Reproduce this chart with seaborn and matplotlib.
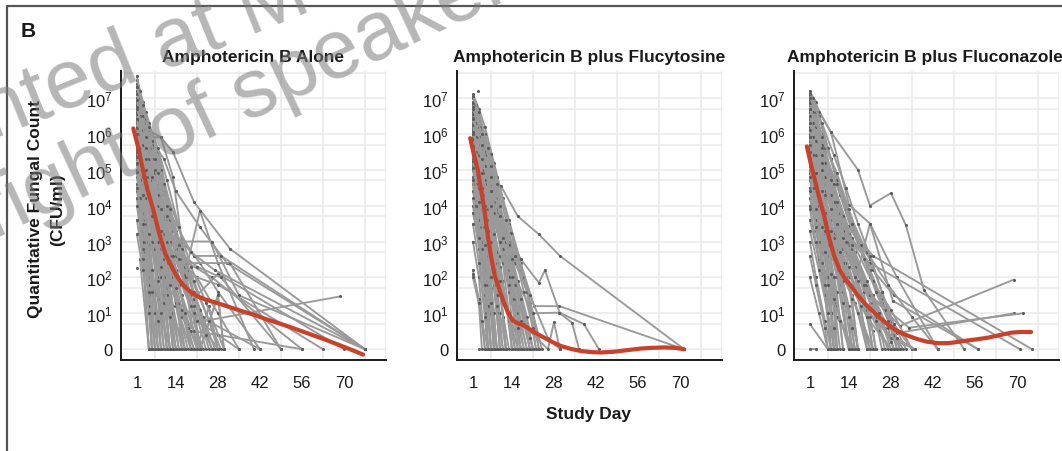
import matplotlib
matplotlib.use("Agg")
import matplotlib.pyplot as plt
import seaborn as sns
import pandas as pd
from matplotlib.lines import Line2D

# ---------------- data ----------------
PANEL_TITLES = ["Amphotericin B Alone",
                "Amphotericin B plus Flucytosine",
                "Amphotericin B plus Fluconazole"]
X_TICKS = [1, 14, 28, 42, 56, 70]
Y_TICKS = [0, 1, 2, 3, 4, 5, 6, 7]
Y_TICK_LABELS = ["0", r"$\mathregular{10^{1}}$", r"$\mathregular{10^{2}}$", r"$\mathregular{10^{3}}$",
                 r"$\mathregular{10^{4}}$", r"$\mathregular{10^{5}}$", r"$\mathregular{10^{6}}$",
                 r"$\mathregular{10^{7}}$"]
Y_LABEL = ["Quantitative Fungal Count", "(CFU/ml)"]
X_LABEL = "Study Day"
PANEL_LETTER = "B"

# individual patient trajectories: (study day, log10 CFU/ml)
AMB_ALONE = [
    [(1,7.5),(3,6.9),(5,6.0),(8,4.6),(11,2.8),(14,1.2),(17,0)],
    [(1,7.2),(3,6.4),(5,5.4),(7,4.3),(10,2.4),(13,0)],
    [(1,7.0),(4,6.2),(7,4.9),(10,3.1),(14,1.5),(20,0)],
    [(1,6.9),(3,6.0),(5,5.0),(8,3.6),(11,1.9),(14,0)],
    [(1,6.7),(3,5.7),(5,4.9),(8,3.2),(10,1.5),(12,0)],
    [(1,6.6),(4,5.8),(6,5.1),(9,3.8),(12,2.4),(15,1.0),(19,0)],
    [(1,6.5),(3,5.3),(5,4.6),(7,3.0),(9,0)],
    [(1,6.4),(4,5.5),(7,4.2),(10,2.6),(13,1.2),(16,0)],
    [(1,6.3),(3,5.1),(5,4.1),(8,2.7),(11,0)],
    [(1,6.2),(4,5.2),(6,4.0),(9,2.2),(12,0.8),(14,0)],
    [(1,6.1),(3,5.2),(5,4.8),(8,3.5),(12,2.0),(18,0)],
    [(1,6.0),(3,4.9),(5,3.9),(7,2.5),(9,1.0),(10,0)],
    [(1,5.9),(4,5.0),(6,3.6),(8,2.0),(11,0)],
    [(1,5.8),(3,4.6),(5,3.2),(7,1.6),(8,0)],
    [(1,5.7),(5,5.0),(9,3.3),(13,1.8),(16,0.9),(22,0)],
    [(1,5.6),(3,4.3),(5,2.9),(7,1.0),(8,0)],
    [(1,5.5),(4,4.4),(7,2.8),(10,1.3),(12,0)],
    [(1,5.4),(3,4.0),(5,2.4),(6,0)],
    [(1,5.3),(5,4.9),(8,3.0),(11,1.7),(15,0)],
    [(1,5.2),(3,3.8),(5,2.0),(7,0)],
    [(1,5.0),(3,3.6),(5,1.8),(6,0)],
    [(1,4.9),(5,4.7),(9,2.8),(13,1.0),(17,0)],
    [(1,4.8),(3,3.3),(5,1.5),(7,0)],
    [(1,4.6),(3,3.0),(5,1.2),(6,0)],
    [(1,4.4),(4,3.0),(7,1.5),(9,0)],
    [(1,4.2),(3,2.7),(5,0)],
    [(1,4.0),(3,2.8),(5,1.6),(8,0)],
    [(1,3.6),(3,2.5),(5,0)],
    [(2,2.5),(5,0)],
    [(1,2.27)],
    [(1,7.4),(4,6.6),(8,5.5),(12,4.0),(15,2.8),(19,1.5),(24,0)],
    [(1,7.1),(5,6.3),(9,5.0),(13,3.5),(17,2.0),(21,0.5),(23,0)],
    [(1,6.8),(5,5.9),(9,5.9),(13,4.8),(16,3.0),(20,1.4),(25,0)],
    [(1,6.5),(5,5.6),(10,4.4),(14,3.3),(18,2.2),(24,1.0),(29,0)],
    [(1,6.2),(5,5.1),(9,4.0),(14,2.6),(20,1.2),(22,0),(28,1.5),(30,0)],
    [(1,5.9),(5,4.9),(10,3.4),(14,2.0),(19,0.5),(21,0),(25,1.2),(28,0)],
    [(1,6.0),(5,5.0),(8,4.2),(12,2.9),(17,1.8),(21,0)],
    [(1,5.8),(5,4.9),(11,3.0),(16,1.8),(20,1.0),(28,0)],
    [(1,6.6),(5,5.1),(10,3.7),(15,2.5),(21,2.0),(28,1.0),(35,0)],
    [(1,6.9),(6,5.8),(10,4.6),(16,3.1),(22,2.4),(28,1.6),(42,0)],
    [(1,7.0),(5,6.1),(9,5.9),(13,5.5),(20,4.1),(32,2.8),(77,0)],
    [(1,6.6),(6,5.8),(10,5.3),(14,4.4),(22,3.4),(31,2.4),(77,0)],
    [(1,6.2),(5,5.0),(12,3.4),(17,2.1),(22,3.85),(28,2.4),(40,0)],
    [(1,5.9),(5,5.0),(10,3.4),(15,3.0),(26,3.0),(35,1.5),(77,0)],
    [(1,6.0),(4,5.0),(9,3.0),(17.6,2.4),(32,2.4),(49,0)],
    [(1,5.5),(5,4.8),(10,2.5),(17.6,0.7),(68.7,1.47)],
    [(1,6.8),(5,5.2),(11,3.6),(16,2.5),(26,2.0),(56,0)],
    [(1,6.4),(5,4.9),(10,3.1),(14,2.2),(28,1.8),(63,0)],
    [(1,5.8),(5,5.0),(13,2.0),(21,1.5),(28,2.1),(70,0)],
    [(1,7.2),(4,6.0),(8,4.5),(13,3.3),(20,2.6),(29,2.6),(77,0)],
    [(1,6.1),(5,4.8),(12,2.5),(20,1.0),(42,0)],
    [(1,5.3),(4,4.5),(9,2.0),(15,1.3),(21,0.8),(35,0)],
    [(1,6.9),(6,5.7),(12,3.8),(19,2.7),(27,2.2),(77,0)],
    [(1,5.6),(5,5.1),(11,3.0),(16,1.5),(22,0),(28,1.5),(30,0)],
    [(1,6.3),(5,5.0),(10,3.6),(14,2.8),(21,2.3),(29,2.0),(49,0)],
    [(1,5.7),(5,4.9),(14,1.3),(20,0.5),(28,0.4),(56,0)],
    [(1,7.3),(2,7.0),(4,6.3),(6,5.6),(9,4.3),(12,3.0),(15,1.8),(18,0.6),(20,0)],
    [(1,7.1),(3,6.5),(6,5.3),(9,3.9),(12,2.6),(16,1.1),(19,0)],
    [(1,6.95),(2,6.5),(4,5.6),(7,4.4),(10,3.2),(13,2.0),(17,0)],
    [(1,6.75),(3,6.1),(5,5.5),(8,4.3),(11,3.0),(14,1.7),(16,0)],
    [(1,6.55),(2,6.0),(5,5.3),(8,4.0),(11,2.4),(13,0)],
    [(1,6.35),(3,5.7),(6,4.7),(9,3.3),(12,1.8),(15,0)],
    [(1,6.15),(2,5.6),(4,4.8),(7,3.5),(10,2.0),(12,0)],
    [(1,5.95),(3,5.1),(5,4.3),(8,3.0),(11,1.5),(13,0)],
    [(1,5.75),(2,5.2),(4,4.2),(6,3.0),(8,1.4),(10,0)],
    [(1,5.55),(3,4.8),(6,3.7),(9,2.3),(12,0.9),(14,0)],
    [(1,5.35),(2,4.7),(4,3.5),(6,2.2),(8,0.8),(9,0)],
    [(1,5.15),(3,4.3),(5,3.2),(8,1.9),(11,0)],
    [(1,4.95),(2,4.2),(4,3.0),(6,1.6),(7,0)],
    [(1,4.5),(3,3.5),(6,2.2),(9,1.0),(12,0)],
    [(1,3.2),(3,2.2),(5,1.0),(6,0)],
    [(1,7.6),(2,7.2),(4,6.4),(7,5.3),(10,4.3),(14,3.2),(18,2.0),(23,0.9),(27,0)],
    [(1,7.3),(3,6.8),(5,6.2),(8,5.6),(11,4.7),(15,3.4),(19,2.3),(24,1.3),(30,0)],
    [(1,6.4),(4,5.6),(8,4.9),(12,3.9),(16,2.8),(20,1.9),(25,0.8),(28,0)],
    [(1,6.0),(4,5.3),(8,4.6),(12,3.6),(17,2.3),(22,1.1),(26,0)],
    [(1,5.5),(4,5.0),(7,4.9),(11,3.7),(15,2.5),(19,1.2),(22,0)],
    [(1,5.2),(4,5.0),(6,4.8),(9,3.9),(13,2.6),(17,1.0),(19,0)],
    [(1,6.7),(4,5.9),(7,5.0),(11,4.0),(15,2.9),(20,1.6),(24,0.4),(26,0)],
]

AMB_FLUCYTOSINE = [
    [(1,7.1),(3,6.7),(5,6.2),(8,5.2),(11,4.2),(13,3.6),(17,2.4),(20,1.3),(23,0)],
    [(1,6.9),(3,6.3),(5,5.6),(8,4.4),(11,3.0),(14,1.8),(18,0)],
    [(1,6.8),(3,6.0),(6,5.0),(9,3.6),(12,2.2),(15,0.8),(17,0)],
    [(1,6.7),(4,6.0),(7,4.9),(10,3.5),(13,2.2),(16,1.0),(19,0)],
    [(1,6.6),(3,5.7),(5,4.9),(8,3.4),(11,1.9),(14,0)],
    [(1,6.5),(3,5.5),(6,4.4),(9,2.8),(12,1.3),(15,0)],
    [(1,6.4),(3,5.4),(5,4.3),(8,2.6),(10,1.0),(12,0)],
    [(1,6.3),(4,5.3),(7,4.0),(10,2.3),(13,0.8),(14,0)],
    [(1,6.2),(3,5.1),(5,3.9),(7,2.6),(9,1.0),(11,0)],
    [(1,6.1),(3,5.0),(6,4.1),(9,2.7),(12,1.2),(16,0)],
    [(1,6.0),(3,4.8),(5,3.5),(7,2.0),(9,0)],
    [(1,5.9),(4,4.9),(7,3.5),(10,1.8),(12,0)],
    [(1,5.8),(3,4.6),(5,3.3),(7,1.7),(8,0)],
    [(1,5.7),(3,4.5),(6,3.6),(9,2.2),(13,1.0),(17,0)],
    [(1,5.6),(3,4.3),(5,2.8),(7,1.2),(8,0)],
    [(1,5.5),(4,4.5),(7,3.0),(10,1.5),(13,0)],
    [(1,5.4),(3,4.0),(5,2.5),(6,0)],
    [(1,5.3),(3,4.2),(6,3.0),(9,1.5),(11,0)],
    [(1,5.2),(3,3.8),(5,2.2),(7,0)],
    [(1,5.1),(4,4.0),(7,2.5),(9,1.0),(10,0)],
    [(1,5.0),(3,3.6),(5,1.9),(6,0)],
    [(1,4.8),(3,3.4),(6,2.0),(8,0)],
    [(1,4.6),(3,3.2),(5,1.5),(6,0)],
    [(1,4.4),(4,3.0),(7,1.4),(9,0)],
    [(1,4.0),(3,2.8),(5,1.0),(6,0)],
    [(1,3.8),(4,2.5),(7,1.0),(9,0)],
    [(1,3.0),(3,2.0),(5,0)],
    [(1,2.2),(3,1.4),(5,0)],
    [(1,2.1),(4,0.8),(6,0)],
    [(2.7,7.2)],
    [(3,0)],
    [(1,6.9),(5,6.0),(9,4.8),(13,3.5),(17,2.2),(21,1.0),(23,0)],
    [(1,6.6),(5,5.8),(9,4.5),(12,3.0),(16,1.8),(19,0.7),(21,0)],
    [(1,6.3),(5,5.5),(8,4.8),(12,3.3),(15,2.0),(18,0.8),(20,0)],
    [(1,6.0),(5,5.2),(9,3.9),(13,2.6),(17,1.4),(20,0)],
    [(1,5.7),(5,4.9),(9,3.6),(13,2.0),(16,0.7),(18,0)],
    [(1,6.4),(5,5.4),(9,4.2),(14,2.9),(18,2.0),(24,0)],
    [(1,6.1),(5,5.1),(9,3.9),(13,3.0),(19,1.6),(22,0)],
    [(1,6.2),(4,5.3),(7,4.55),(10.3,4.55),(16,3.7),(23,3.2),(30,2.6),(71.4,0)],
    [(1,6.8),(4,6.1),(7,5.45),(13.7,3.25),(21.4,1.2),(29.8,1.2),(71.4,0)],
    [(1,6.0),(5,5.0),(9,3.8),(17,2.5),(23,1.85),(25,2.2),(30,1.0),(34,0.74),(36.4,0)],
    [(1,5.8),(5,4.7),(9,3.3),(15,2.0),(21,1.0),(29.8,1.02),(38,0.7),(43,0)],
    [(1,5.5),(5,4.3),(10,2.6),(15,1.4),(20,0.5),(26,0),(28,0.75),(30,0)],
    [(1,6.5),(5,5.5),(10,3.8),(15,2.4),(20,1.5),(26,0.3),(30,0)],
    [(1,7.0),(2,6.8),(4,6.2),(6,5.4),(9,4.2),(12,3.0),(15,1.8),(18,0.7),(20,0)],
    [(1,6.85),(3,6.2),(5,5.4),(8,4.1),(11,2.8),(14,1.4),(16,0)],
    [(1,6.75),(2,6.3),(4,5.6),(7,4.4),(10,3.0),(13,1.6),(15,0)],
    [(1,6.55),(3,5.9),(5,5.1),(8,3.8),(11,2.4),(13,1.0),(14,0)],
    [(1,6.45),(2,5.9),(4,5.0),(6,3.9),(9,2.4),(11,0.9),(12,0)],
    [(1,6.25),(3,5.4),(5,4.6),(8,3.2),(10,1.9),(12,0)],
    [(1,6.05),(2,5.5),(4,4.5),(6,3.3),(8,1.8),(10,0)],
    [(1,5.85),(3,5.0),(5,4.0),(7,2.6),(9,1.2),(10,0)],
    [(1,5.65),(2,5.0),(4,3.9),(6,2.6),(8,1.0),(9,0)],
    [(1,5.45),(3,4.5),(5,3.4),(7,2.0),(8,0)],
    [(1,5.25),(2,4.6),(4,3.4),(6,1.8),(7,0)],
    [(1,5.05),(3,4.1),(5,2.9),(7,1.3),(8,0)],
    [(1,4.7),(2,4.0),(4,2.8),(6,1.2),(7,0)],
    [(1,4.2),(3,3.1),(5,1.8),(7,0)],
    [(1,3.5),(3,2.4),(5,0.9),(6,0)],
    [(1,7.05),(3,6.6),(6,5.6),(9,4.6),(12,3.6),(15,2.6),(18,1.6),(21,0.6),(22,0)],
    [(1,6.7),(4,6.0),(7,5.1),(10,4.0),(13,2.9),(16,1.9),(19,0.9),(21,0)],
    [(1,6.4),(4,5.7),(7,4.8),(10,3.7),(14,2.5),(17,1.4),(20,0.3),(21,0)],
    [(1,6.0),(4,5.3),(7,4.4),(11,3.1),(14,2.0),(17,0.8),(19,0)],
    [(1,5.6),(4,4.9),(7,4.0),(10,3.0),(13,1.8),(16,0.6),(17,0)],
    [(1,2.0),(3,1.3),(4,0)],
]

AMB_FLUCONAZOLE = [
    [(1,7.15),(3,6.9),(5,6.2),(8,5.3),(11,4.4),(14,3.6),(18,2.9),(21,2.5),(25,1.6),(28,0.8),(30,0)],
    [(1,7.0),(3,6.6),(5,5.9),(8,4.9),(11,4.0),(14,3.1),(18,2.2),(22,1.3),(26,0)],
    [(1,6.9),(3,6.3),(6,5.4),(9,4.4),(12,3.5),(15,2.6),(19,1.6),(22,0)],
    [(1,6.8),(4,6.0),(7,5.0),(10,4.0),(14,2.9),(18,2.0),(22,1.5),(27,0.6),(29,0)],
    [(1,6.7),(3,6.0),(5,5.2),(8,4.0),(11,2.8),(14,1.8),(17,0)],
    [(1,6.6),(3,5.8),(6,4.8),(9,3.6),(13,2.4),(17,1.4),(21,0)],
    [(1,6.5),(4,5.6),(7,4.4),(10,3.2),(14,2.0),(17,0)],
    [(1,6.4),(3,5.4),(5,4.4),(8,3.0),(11,1.8),(14,0)],
    [(1,6.3),(4,5.5),(8,4.2),(12,3.0),(16,2.0),(20,1.2),(24,0.5),(28,0)],
    [(1,6.2),(3,5.2),(6,4.0),(9,2.8),(12,1.6),(15,0)],
    [(1,6.1),(4,5.0),(7,3.7),(10,2.4),(14,1.0),(16,0)],
    [(1,6.0),(3,4.9),(5,3.9),(8,2.5),(10,0)],
    [(1,5.9),(4,4.9),(8,3.6),(12,2.4),(15,1.5),(21,0)],
    [(1,5.8),(3,4.7),(6,3.4),(9,2.0),(10,0)],
    [(1,5.7),(4,4.6),(7,3.4),(11,2.2),(14,1.2),(17,0)],
    [(1,5.6),(3,4.5),(5,3.4),(7,2.0),(9,0)],
    [(1,5.5),(4,4.5),(8,3.2),(12,2.0),(16,1.3),(22,0)],
    [(1,5.4),(3,4.2),(6,3.0),(8,1.5),(9,0)],
    [(1,5.3),(4,4.3),(7,3.1),(10,2.0),(14,0)],
    [(1,5.2),(3,4.0),(5,2.7),(7,1.0),(8,0)],
    [(1,5.0),(4,3.9),(7,2.6),(10,1.2),(14,0)],
    [(1,4.9),(3,3.6),(6,2.5),(9,1.3),(15,0)],
    [(1,4.7),(4,3.5),(7,2.0),(9,0)],
    [(1,4.5),(3,3.3),(6,2.0),(8,0)],
    [(1,4.2),(4,3.0),(7,1.8),(10,0.9),(16,0)],
    [(1,4.0),(3,2.9),(6,1.5),(8,0)],
    [(1,3.6),(4,2.5),(8,1.0),(9,0)],
    [(1,3.0),(3,2.0),(6,0.8),(8,0)],
    [(1,2.0),(4,1.0),(7,0)],
    [(1,0.7),(7,0)],
    [(1,0),(3,0)],
    [(1,6.9),(5,6.0),(9,5.0),(13,4.0),(17,3.0),(21,2.2),(25,1.4),(28,0.6),(32,0)],
    [(1,6.6),(5,5.6),(9,4.5),(13,3.4),(17,2.4),(21,1.5),(26,0.6),(29,0)],
    [(1,6.4),(5,5.2),(9,4.1),(14,3.0),(19,1.8),(23,0.9),(27,0)],
    [(1,6.0),(5,4.8),(9,3.7),(14,2.6),(18,1.5),(22,0.5),(23,0)],
    [(1,5.6),(5,4.4),(9,3.2),(13,2.0),(17,1.0),(20,0)],
    [(1,5.0),(5,4.0),(10,2.8),(15,1.7),(20,0.9),(28,0)],
    [(1,6.8),(6,5.5),(11,4.3),(15,3.3),(20,2.4),(24,1.5),(29,0.7),(35,0)],
    [(1,6.2),(6,5.0),(11,3.5),(16,2.3),(21,1.3),(26,0.5),(36,0)],
    [(1,7.1),(8,6.05),(17,5.0),(21,4.0),(28,4.35),(33,3.45),(39,1.65),(52.4,0)],
    [(1,7.05),(4,6.6),(8,6.05),(14,4.03),(21,3.5),(30,2.0),(43.6,0)],
    [(1,4.8),(6,3.2),(10,2.2),(15.7,1.75),(21,3.5),(28.6,1.35),(57,0)],
    [(1,6.5),(7,5.0),(13.6,3.43),(22,2.6),(75,0)],
    [(1,6.2),(6,4.6),(12,3.3),(21,2.4),(71,0)],
    [(1,5.8),(6,4.2),(12,2.8),(20,1.6),(31,0.65),(69,1.94)],
    [(1,5.5),(6,3.9),(12,2.4),(20,1.2),(30,0.45),(69,1.0)],
    [(1,6.0),(6,4.4),(13,2.7),(21,1.5),(34,0.6),(72,1.0)],
    [(1,6.4),(8,4.8),(15,3.1),(22,2.2),(29,1.5),(57,0)],
    [(1,6.8),(8,5.3),(14,3.8),(20,2.7),(27,1.8),(35,0.9),(43.6,0)],
    [(1,6.6),(7,4.9),(14,3.2),(21,2.0),(28,1.1),(35,0)],
    [(1,5.2),(6,3.6),(13,2.0),(20,1.1),(28,0.3),(36,0)],
    [(1,7.2),(2,7.0),(4,6.5),(7,5.6),(10,4.7),(13,3.9),(17,3.0),(21,2.2),(25,1.3),(29,0.4),(31,0)],
    [(1,7.1),(3,6.6),(6,5.6),(9,4.6),(12,3.7),(16,2.7),(20,1.8),(24,1.0),(28,0)],
    [(1,6.95),(2,6.6),(5,5.7),(8,4.7),(11,3.8),(15,2.8),(19,1.8),(23,0.8),(25,0)],
    [(1,6.85),(3,6.2),(6,5.2),(9,4.1),(13,3.0),(17,1.9),(21,0.9),(23,0)],
    [(1,6.7),(2,6.3),(5,5.4),(8,4.3),(12,3.1),(16,2.0),(20,0.9),(22,0)],
    [(1,6.5),(3,5.8),(6,4.8),(10,3.5),(14,2.3),(18,1.2),(20,0)],
    [(1,6.3),(2,5.9),(5,5.0),(8,3.9),(11,2.7),(15,1.4),(17,0)],
    [(1,6.1),(3,5.4),(6,4.3),(9,3.1),(12,1.9),(15,0.6),(16,0)],
    [(1,5.9),(2,5.4),(5,4.4),(8,3.3),(11,2.2),(14,0.9),(15,0)],
    [(1,5.7),(3,4.9),(6,3.8),(9,2.6),(12,1.3),(14,0)],
    [(1,5.5),(2,4.9),(4,4.0),(7,2.9),(10,1.6),(12,0)],
    [(1,5.3),(3,4.5),(6,3.3),(9,2.0),(11,0.8),(12,0)],
    [(1,5.1),(2,4.5),(5,3.4),(8,2.1),(10,0)],
    [(1,4.8),(3,3.9),(6,2.7),(9,1.4),(11,0)],
    [(1,4.4),(3,3.4),(5,2.4),(8,1.0),(10,0)],
    [(1,3.9),(3,3.0),(6,1.8),(9,0.6),(10,0)],
    [(1,3.3),(4,2.2),(7,1.0),(9,0)],
    [(1,2.6),(3,1.8),(6,0.6),(7,0)],
    [(1,7.0),(5,6.3),(9,5.4),(13,4.5),(17,3.5),(21,2.6),(25,1.6),(29,0.7),(33,0)],
    [(1,6.7),(5,5.9),(10,4.9),(14,3.9),(18,2.9),(22,1.9),(26,1.1),(30,0.3),(31,0)],
    [(1,6.3),(5,5.6),(10,4.6),(15,3.5),(19,2.5),(23,1.6),(27,0.8),(30,0)],
    [(1,5.9),(5,5.2),(10,4.1),(15,2.9),(20,1.9),(24,1.0),(28,0.2),(29,0)],
]

# smoothed group curves (red)
SMOOTH_ALONE_DAY = [-0.2,1.5,3,4.5,6.4,8.5,10.5,12,13.5,15,16.5,18.5,21,24,28,32,36,40,44,48,52,56,60,64,68,72,76.4]
SMOOTH_ALONE_LOG = [6.15,5.6,5.0,4.45,3.9,3.2,2.65,2.4,2.15,1.95,1.78,1.62,1.48,1.38,1.28,1.17,1.06,0.96,0.84,0.73,0.62,0.5,0.38,0.26,0.13,0.0,-0.15]
SMOOTH_FLUCY_DAY = [0.1,1.4,2.6,3.7,4.8,5.9,7,8.3,9.8,11.3,12.8,14.3,15.5,17,19.2,21.5,23.7,27,30.3,33.6,37,40.5,43.7,48,52,57,61,64.8,68,71.4]
SMOOTH_FLUCY_LOG = [5.88,5.4,5.0,4.45,3.9,3.2,2.6,2.05,1.67,1.3,1.0,0.8,0.74,0.7,0.6,0.47,0.37,0.22,0.09,0.01,-0.05,-0.08,-0.09,-0.07,-0.03,0.02,0.04,0.05,0.04,0.0]
SMOOTH_FLUCO_DAY = [0,1.2,2.4,4,5.8,7.4,9.1,11,12.8,14.7,17,19,21.3,24,26.5,29.1,32,34.5,36.9,40,43.6,47,49.1,52.4,56,60.2,64,68,71,74.7]
SMOOTH_FLUCO_LOG = [5.65,5.2,4.8,4.25,3.7,3.1,2.6,2.2,1.95,1.76,1.5,1.3,1.11,0.9,0.72,0.56,0.43,0.35,0.28,0.21,0.17,0.17,0.19,0.23,0.27,0.32,0.39,0.46,0.48,0.48]

PANELS = [
    (AMB_ALONE, SMOOTH_ALONE_DAY, SMOOTH_ALONE_LOG),
    (AMB_FLUCYTOSINE, SMOOTH_FLUCY_DAY, SMOOTH_FLUCY_LOG),
    (AMB_FLUCONAZOLE, SMOOTH_FLUCO_DAY, SMOOTH_FLUCO_LOG),
]

# ---------------- style ----------------
sns.set_theme(style="white")
plt.rcParams["font.family"] = ["Liberation Sans", "DejaVu Sans"]
plt.rcParams["mathtext.fontset"] = "custom"
plt.rcParams["mathtext.rm"] = "Liberation Sans"
plt.rcParams["mathtext.it"] = "Liberation Sans:italic"
plt.rcParams["mathtext.bf"] = "Liberation Sans:bold"

W, H = 1062, 452
fig = plt.figure(figsize=(W / 100, H / 100), dpi=100)
fig.patch.set_facecolor("white")

LINE_GREY = "#999999"
DOT_GREY = "#5a5a5a"
RED = "#c8412b"
INK = "#1a1a1a"

lefts = [121, 457, 794]
title_dx = [0, 0, -2]
ax_w, ax_bottom, ax_h = 265, 91, 289

for i, (trajs, sday, slog) in enumerate(PANELS):
    ax = fig.add_axes([lefts[i] / W, ax_bottom / H, ax_w / W, ax_h / H])
    rows = []
    for pid, traj in enumerate(trajs):
        for d, v in traj:
            rows.append({"pid": pid, "day": d, "log": v})
    df = pd.DataFrame(rows)
    sns.lineplot(data=df, x="day", y="log", units="pid", estimator=None, ax=ax,
                 color=LINE_GREY, lw=1.35, marker="o", markersize=2.2,
                 markerfacecolor=DOT_GREY, markeredgewidth=0, sort=False,
                 legend=False, zorder=3)
    sns.lineplot(x=sday, y=slog, ax=ax, color=RED, lw=3.0, sort=False,
                 estimator=None, zorder=5)

    ax.set_xlim(-4.3, 84.0)
    ax.set_ylim(-0.3, 7.75)
    ax.set_xticks(X_TICKS)
    ax.set_xticklabels([str(t) for t in X_TICKS])
    ax.set_yticks(Y_TICKS)
    ax.set_yticklabels(Y_TICK_LABELS)
    ax.set_xticks([7 * k for k in range(1, 13)], minor=True)
    ax.set_yticks([k + 0.7 for k in range(0, 8)], minor=True)
    ax.grid(False)
    ax.grid(True, which="minor", color="#e9e9e9", lw=1.1, zorder=0)
    for yv in Y_TICKS:
        ax.axhline(yv, color="#e9e9e9", lw=1.1, zorder=0)
    ax.set_axisbelow(True)
    ax.tick_params(axis="both", which="major", direction="out", length=5.5,
                   width=1.2, color=INK, labelsize=12, labelcolor=INK)
    ax.tick_params(axis="y", which="major", pad=0.5)
    ax.tick_params(axis="x", which="major", pad=5.0)
    ax.tick_params(which="minor", length=0)
    for s in ["top", "right"]:
        ax.spines[s].set_visible(False)
    for s in ["left", "bottom"]:
        ax.spines[s].set_color(INK)
        ax.spines[s].set_linewidth(1.4)
    ax.set_xlabel("")
    ax.set_ylabel("")
    cx = (lefts[i] + ax_w / 2 + title_dx[i]) / W
    fig.text(cx, 1 - 62 / H, PANEL_TITLES[i], ha="center", va="baseline",
             fontsize=12.5, fontweight="bold", color=INK)

# axis labels
fig.text(36 / W, 1 - 209 / H, Y_LABEL[0], rotation=90, ha="center", va="center",
         fontsize=12.5, fontweight="bold", color=INK)
fig.text(58 / W, 1 - 210 / H, Y_LABEL[1], rotation=90, ha="center", va="center",
         fontsize=12.5, fontweight="bold", color=INK)
fig.text(589 / W, 1 - 415 / H, X_LABEL, ha="center", va="center",
         fontsize=12.5, fontweight="bold", color=INK)
fig.text(21 / W, 1 - 37 / H, PANEL_LETTER, ha="left", va="baseline",
         fontsize=15, fontweight="bold", color=INK)

# frame of the figure panel
fig.add_artist(Line2D([6.5 / W, 1.0], [1 - 6.5 / H, 1 - 6.5 / H], color="#555555", lw=1.6))
fig.add_artist(Line2D([6.5 / W, 6.5 / W], [1 - 6.5 / H, 0.0], color="#555555", lw=1.6))

# overlaid watermark
fig.text(-8 / W, 1 - 140 / H, "nted at M", rotation=22, rotation_mode="anchor",
         ha="left", va="baseline", fontsize=60, color="#7a7a7a", alpha=0.55, zorder=100)
fig.text(-6 / W, 1 - 240 / H, "right of speaker.", rotation=25, rotation_mode="anchor",
         ha="left", va="baseline", fontsize=60, color="#7a7a7a", alpha=0.55, zorder=100)

fig.savefig("out.png", dpi=100, facecolor="white")
